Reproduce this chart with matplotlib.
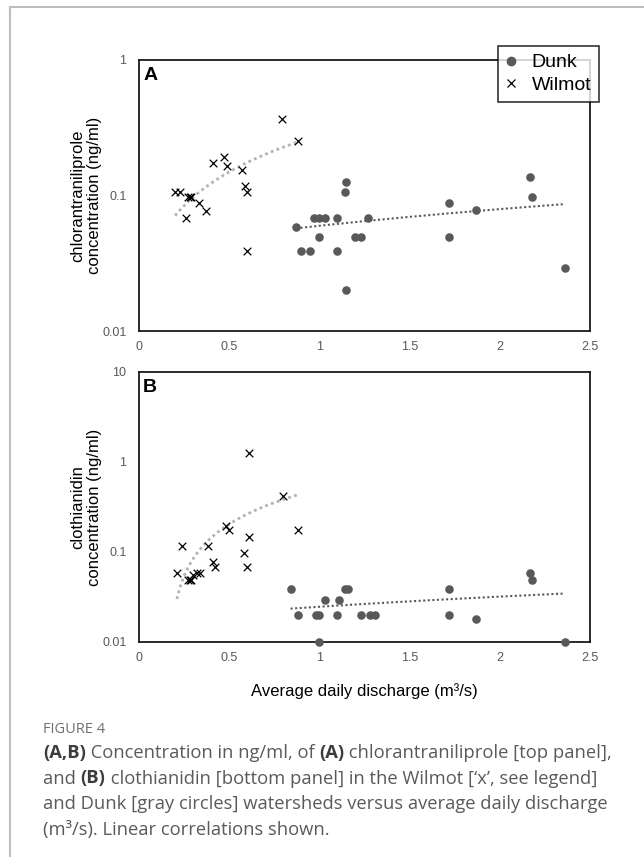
#!/usr/bin/env python3
# -*- coding: utf-8 -*-

#------------------------------------------------------------------------------
# PROGRAM: plot.py  (neonicotinoid concentration vs discharge, Figure 4)
#------------------------------------------------------------------------------

import numpy as np
import matplotlib
matplotlib.use('Agg')
import matplotlib.pyplot as plt; plt.close('all')
from matplotlib.lines import Line2D

#------------------------------------------------------------------------------
# SETTINGS:
#------------------------------------------------------------------------------

plt.rcParams['font.family'] = ['Liberation Sans', 'DejaVu Sans']
fontsize = 12
ticksize = 9
tickcolor = '#595959'
dunkcolor = '#595959'
trendwilmot = '#b3b3b3'

#------------------------------------------------------------------------------
# DATA:
#------------------------------------------------------------------------------

# (A) chlorantraniliprole
wilmot_a_x = [0.20, 0.23, 0.26, 0.27, 0.28, 0.29, 0.33, 0.37, 0.41, 0.47, 0.49, 0.57, 0.59, 0.60, 0.60, 0.79, 0.88]
wilmot_a_y = [0.107, 0.107, 0.068, 0.098, 0.098, 0.098, 0.088, 0.077, 0.175, 0.193, 0.165, 0.154, 0.117, 0.107, 0.039, 0.367, 0.252]
dunk_a_x = [0.87, 0.90, 0.95, 0.97, 1.00, 1.03, 1.00, 1.10, 1.10, 1.14, 1.15, 1.15, 1.20, 1.23, 1.27, 1.72, 1.72, 1.87, 2.17, 2.18, 2.36]
dunk_a_y = [0.059, 0.039, 0.039, 0.068, 0.068, 0.068, 0.049, 0.039, 0.068, 0.107, 0.126, 0.020, 0.049, 0.049, 0.068, 0.088, 0.049, 0.078, 0.136, 0.098, 0.029]

# (B) clothianidin
wilmot_b_x = [0.21, 0.24, 0.27, 0.28, 0.29, 0.30, 0.32, 0.34, 0.38, 0.41, 0.42, 0.48, 0.50, 0.58, 0.61, 0.60, 0.61, 0.80, 0.88]
wilmot_b_y = [0.059, 0.117, 0.049, 0.049, 0.049, 0.055, 0.059, 0.059, 0.117, 0.078, 0.069, 0.195, 0.176, 0.097, 0.146, 0.069, 1.25, 0.42, 0.176]
dunk_b_x = [0.84, 0.88, 0.98, 1.00, 1.00, 1.03, 1.10, 1.11, 1.14, 1.16, 1.23, 1.28, 1.31, 1.72, 1.72, 1.87, 2.17, 2.18, 2.36]
dunk_b_y = [0.039, 0.020, 0.020, 0.020, 0.010, 0.029, 0.020, 0.029, 0.039, 0.039, 0.020, 0.020, 0.020, 0.039, 0.020, 0.018, 0.059, 0.049, 0.010]

xticks = [0, 0.5, 1, 1.5, 2, 2.5]
xticklabels = ['0', '0.5', '1', '1.5', '2', '2.5']
yticks_a = [0.01, 0.1, 1]
yticklabels_a = ['0.01', '0.1', '1']
yticks_b = [0.01, 0.1, 1, 10]
yticklabels_b = ['0.01', '0.1', '1', '10']

#------------------------------------------------------------------------------
# METHODS:
#------------------------------------------------------------------------------

def trend(ax, x, y, color, lw):
    # Excel-style linear trendline (fit on raw values, drawn on log axis)
    b, a = np.polyfit(x, y, 1)
    xx = np.linspace(min(x), max(x), 200)
    ax.plot(xx, a + b * xx, color=color, lw=lw, ls=(0, (1, 1.2)), zorder=1)

def panel(ax, wx, wy, dx, dy, yticks, yticklabels, ylim, ylabel, tag):
    trend(ax, wx, wy, trendwilmot, 2.0)
    trend(ax, dx, dy, dunkcolor, 1.5)
    ax.scatter(dx, dy, s=38, color=dunkcolor, marker='o', lw=0, zorder=3, clip_on=False, label='Dunk')
    ax.scatter(wx, wy, s=30, color='black', marker='x', lw=0.9, zorder=3, clip_on=False, label='Wilmot')
    ax.set_yscale('log')
    ax.set_xlim(0, 2.5)
    ax.set_ylim(*ylim)
    ax.set_xticks(xticks)
    ax.set_xticklabels(xticklabels)
    ax.set_yticks(yticks)
    ax.set_yticklabels(yticklabels)
    ax.yaxis.set_minor_locator(matplotlib.ticker.NullLocator())
    ax.tick_params(axis='both', length=0, labelsize=ticksize, labelcolor=tickcolor)
    ax.tick_params(axis='x', pad=7)
    ax.tick_params(axis='y', pad=9)
    for s in ax.spines.values():
        s.set_linewidth(1.3)
        s.set_color('#1a1a1a')
    ax.set_ylabel(ylabel, fontsize=fontsize, ha='center', va='center', linespacing=1.15)
    ax.yaxis.set_label_coords(-0.118, 0.5)
    ax.text(0.009, 0.975, tag, transform=ax.transAxes, fontsize=14, weight='bold', ha='left', va='top')

def rich_line(fig, x, y, parts, size, color, boldcolor):
    # place regular / bold pieces one after the other on one baseline
    r = fig.canvas.get_renderer()
    for txt, weight in parts:
        c = boldcolor if weight == 'bold' else color
        t = fig.text(x, y, txt, fontsize=size, weight=weight, color=c,
                     family=['Open Sans', 'DejaVu Sans'], ha='left', va='baseline')
        x += t.get_window_extent(renderer=r).width / fig.bbox.width

#------------------------------------------------------------------------------
# PLOT:
#------------------------------------------------------------------------------

W, H = 644, 857
fig = plt.figure(figsize=(W / 100, H / 100), dpi=100)

ax1 = fig.add_axes([139 / W, 1 - 331 / H, 451 / W, 271 / H])
ax2 = fig.add_axes([139 / W, 1 - 642 / H, 451 / W, 270 / H])

panel(ax1, wilmot_a_x, wilmot_a_y, dunk_a_x, dunk_a_y, yticks_a, yticklabels_a, (0.01, 1),
      'chlorantraniliprole\nconcentration (ng/ml)', 'A')
panel(ax2, wilmot_b_x, wilmot_b_y, dunk_b_x, dunk_b_y, yticks_b, yticklabels_b, (0.01, 10),
      'clothianidin\nconcentration (ng/ml)', 'B')
ax2.set_xlabel('Average daily discharge (m\u00b3/s)', fontsize=fontsize, labelpad=14)

handles = [Line2D([], [], ls='none', marker='o', ms=6, mfc=dunkcolor, mec=dunkcolor),
           Line2D([], [], ls='none', marker='x', ms=6, mew=0.9, color='black')]
leg = fig.legend(handles, ['Dunk', 'Wilmot'], loc='upper right', bbox_to_anchor=(599 / W, 1 - 46 / H),
                 fontsize=14, frameon=True, fancybox=False, borderaxespad=0, handlelength=0.6,
                 handletextpad=0.75, borderpad=0.4, labelspacing=0.25)
leg.get_frame().set_edgecolor('black')
leg.get_frame().set_linewidth(1.2)

# outer frame of the figure panel
fig.add_artist(Line2D([10 / W, 1], [1 - 7 / H, 1 - 7 / H], transform=fig.transFigure, color='#bdbdbd', lw=1.5))
fig.add_artist(Line2D([10 / W, 10 / W], [0, 1 - 7 / H], transform=fig.transFigure, color='#bdbdbd', lw=1.5))

# caption
capcolor = '#5a5a5a'
capx = 43 / W
fig.text(capx, 1 - 733 / H, 'FIGURE 4', fontsize=10.5, color='#707070', family=['Open Sans', 'DejaVu Sans'],
         ha='left', va='baseline')
lines = [
    [('(A,B)', 'bold'), (' Concentration in ng/ml, of ', 'normal'), ('(A)', 'bold'),
     (' chlorantraniliprole [top panel],', 'normal')],
    [('and ', 'normal'), ('(B)', 'bold'), (' clothianidin [bottom panel] in the Wilmot [\u2018x\u2019, see legend]', 'normal')],
    [('and Dunk [gray circles] watersheds versus average daily discharge', 'normal')],
    [('(m\u00b3/s). Linear correlations shown.', 'normal')],
]
for i, parts in enumerate(lines):
    rich_line(fig, capx, 1 - (758 + 25.5 * i) / H, parts, 13.2, capcolor, '#3c3c3c')

plt.savefig('out.png', dpi=100)
print('** END')
